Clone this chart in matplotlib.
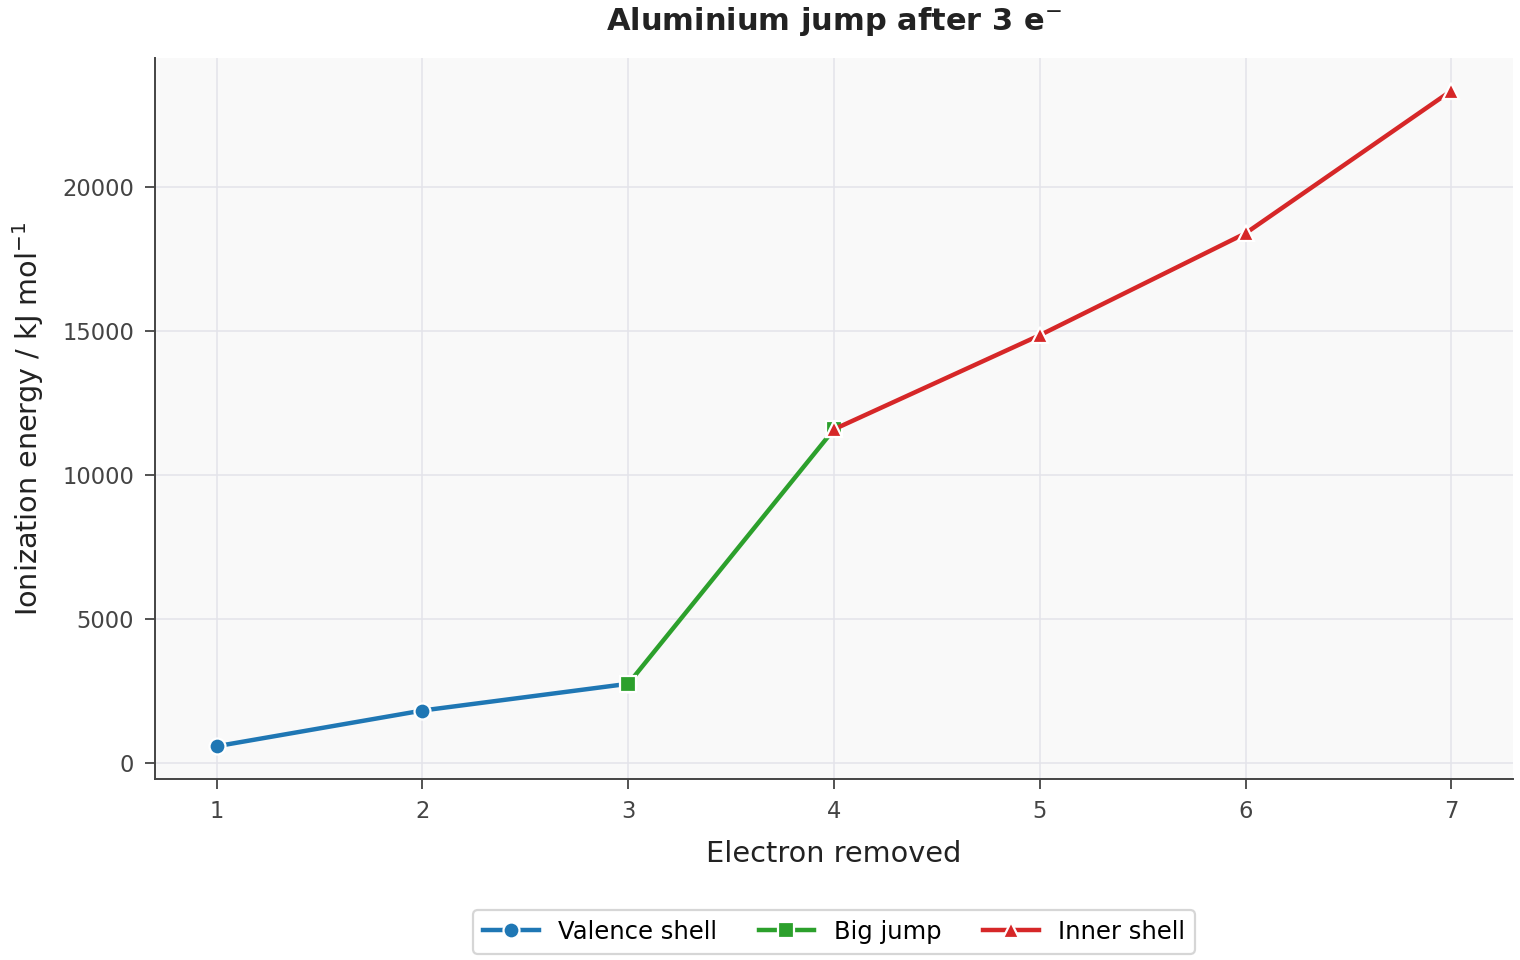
import numpy as np
import matplotlib
matplotlib.use("Agg")
import matplotlib.pyplot as plt

# ionization energies for Al (kJ/mol)
electrons = [1, 2, 3, 4, 5, 6, 7]
energies = [577.5, 1816.7, 2744.8, 11577, 14842, 18379, 23326]

valence_x = electrons[0:3]
valence_y = energies[0:3]
jump_x = electrons[2:4]
jump_y = energies[2:4]
inner_x = electrons[3:7]
inner_y = energies[3:7]

plt.rcParams['font.family'] = ['DejaVu Sans']

fig = plt.figure(figsize=(15.2, 9.6), dpi=100)
ax = fig.add_axes([155 / 1520, 1 - 779 / 960, (1513 - 155) / 1520, (779 - 58) / 960])
ax.set_facecolor('#f9f9f9')

ax.plot(valence_x, valence_y, color='#1f77b4', lw=3.2, marker='o', ms=11.5,
        mec='white', mew=1.6, label='Valence shell', zorder=3)
ax.plot(jump_x, jump_y, color='#2ca02c', lw=3.2, marker='s', ms=11.5,
        mec='white', mew=1.6, label='Big jump', zorder=4)
ax.plot(inner_x, inner_y, color='#d62728', lw=3.2, marker='^', ms=11.5,
        mec='white', mew=1.6, label='Inner shell', zorder=5)

ax.set_xticks(electrons)
ax.set_yticks([0, 5000, 10000, 15000, 20000])
ax.grid(True, color='#e3e3ea', lw=1.1)
ax.set_axisbelow(True)
for s in ['top', 'right']:
    ax.spines[s].set_visible(False)
for s in ['left', 'bottom']:
    ax.spines[s].set_color('#444444')
    ax.spines[s].set_linewidth(1.4)
ax.tick_params(labelsize=16.3, colors='#444444', length=7, width=1.3, pad=8)

ax.set_xlabel('Electron removed', fontsize=20.7, color='#222222', labelpad=12)
ax.set_ylabel('Ionization energy / kJ mol$^{-1}$', fontsize=20.6, color='#222222', labelpad=12)
ax.set_title('Aluminium jump after 3 e$^{-}$', fontsize=22, fontweight='bold',
             color='#222222', pad=20)

leg = ax.legend(loc='upper center', bbox_to_anchor=(0.5, -0.165), ncol=3,
                fontsize=17.5, frameon=True, fancybox=True, columnspacing=1.7,
                handlelength=2.3)
leg.get_frame().set_edgecolor('#cccccc')
leg.get_frame().set_linewidth(1.6)

fig.savefig('out.png', dpi=100)
